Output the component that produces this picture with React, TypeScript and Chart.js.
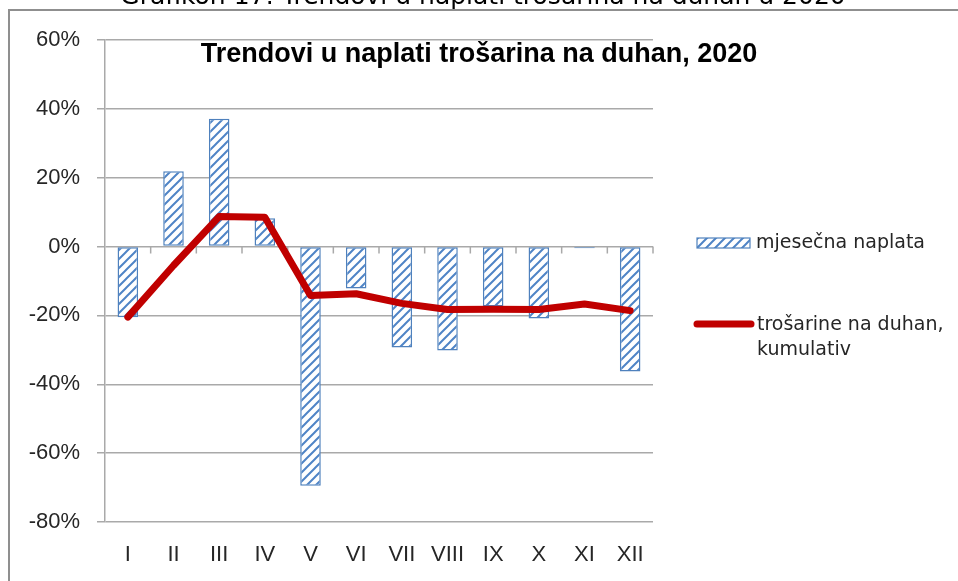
import React, { useEffect, useRef } from "react";
import { Chart, registerables } from "chart.js";

Chart.register(...registerables);

const months = ["I", "II", "III", "IV", "V", "VI", "VII", "VIII", "IX", "X", "XI", "XII"];
const monthlyCollection = [-20.5, 21.9, 37.1, 8.2, -69.5, -12.2, -29.3, -30.2, -17.4, -20.9, -0.5, -36.3];
const cumulativeExcise = [-20.5, -5.5, 8.7, 8.5, -14.2, -13.7, -16.5, -18.3, -18.2, -18.3, -16.7, -18.6];
const yTicks = { min: -80, max: 60, step: 20 };

const captionText = "Grafikon 17: Trendovi u naplati trošarina na duhan u 2020";
const titleText = "Trendovi u naplati trošarina na duhan, 2020";
const legendBar = "mjesečna naplata";
const legendLine = ["trošarine na duhan,", "kumulativ"];

const BLUE = "#4F81BD";
const RED = "#C00000";
const GRID = "#a9a9a9";
const TEXT = "#262626";
const AXIS_FONT = "'Liberation Sans Narrow', 'Liberation Sans', sans-serif";
const LEGEND_FONT = "'DejaVu Sans', Verdana, sans-serif";

function makePattern(): CanvasPattern | string {
  const s = 9;
  const c = document.createElement("canvas");
  c.width = s;
  c.height = s;
  const g = c.getContext("2d");
  if (!g) return BLUE;
  g.fillStyle = "#ffffff";
  g.fillRect(0, 0, s, s);
  g.strokeStyle = "#4f84c6";
  g.lineWidth = 2;
  g.beginPath();
  for (const off of [-s, 0, s]) {
    g.moveTo(off - 2, s + 2);
    g.lineTo(off + s + 2, -2);
  }
  g.stroke();
  const p = g.createPattern(c, "repeat");
  return p || BLUE;
}

export default function App() {
  const ref = useRef<HTMLCanvasElement | null>(null);

  useEffect(() => {
    if (!ref.current) return;
    const pattern = makePattern();

    const decorPlugin = {
      id: "decor",
      beforeDatasetsDraw(chart: any) {
        const ctx = chart.ctx;
        const y = chart.scales.y;
        const y0 = y.getPixelForValue(0);
        const left = chart.chartArea.left;
        const right = chart.chartArea.right;
        const step = (right - left) / months.length;
        ctx.save();
        ctx.strokeStyle = GRID;
        ctx.lineWidth = 1.5;
        ctx.beginPath();
        for (let k = 1; k <= months.length; k++) {
          const px = left + step * k;
          ctx.moveTo(px, y0);
          ctx.lineTo(px, y0 + 7);
        }
        ctx.stroke();
        ctx.restore();
      },
      afterDraw(chart: any) {
        const ctx = chart.ctx;
        ctx.save();
        // caption (cut off at top)
        ctx.fillStyle = "#000000";
        ctx.font = `25px ${LEGEND_FONT}`;
        ctx.textAlign = "center";
        ctx.textBaseline = "alphabetic";
        ctx.fillText(captionText, 483, 4);
        // frame
        ctx.strokeStyle = "#8f8f8f";
        ctx.lineWidth = 2;
        ctx.beginPath();
        ctx.moveTo(9, 581);
        ctx.lineTo(9, 10);
        ctx.lineTo(958, 10);
        ctx.stroke();
        // title
        ctx.fillStyle = "#000000";
        ctx.font = `bold 27px ${AXIS_FONT}`;
        ctx.textAlign = "center";
        ctx.fillText(titleText, 479, 62);
        // legend
        ctx.fillStyle = pattern as any;
        ctx.fillRect(697, 238, 53, 10);
        ctx.strokeStyle = BLUE;
        ctx.lineWidth = 1.2;
        ctx.strokeRect(697, 238, 53, 10);
        ctx.fillStyle = TEXT;
        ctx.font = `19px ${LEGEND_FONT}`;
        ctx.textAlign = "left";
        ctx.textBaseline = "middle";
        ctx.fillText(legendBar, 756, 243);
        ctx.strokeStyle = RED;
        ctx.lineWidth = 7;
        ctx.lineCap = "round";
        ctx.beginPath();
        ctx.moveTo(697, 324);
        ctx.lineTo(751, 324);
        ctx.stroke();
        ctx.fillText(legendLine[0], 757, 325);
        ctx.fillText(legendLine[1], 757, 350);
        ctx.restore();
      },
    };

    const chart = new Chart(ref.current, {
      type: "bar",
      data: {
        labels: months,
        datasets: [
          {
            type: "line",
            label: legendLine.join(" "),
            data: cumulativeExcise,
            borderColor: RED,
            backgroundColor: RED,
            borderWidth: 7,
            pointRadius: 0,
            tension: 0,
            borderJoinStyle: "round",
            borderCapStyle: "round",
            order: 0,
          } as any,
          {
            type: "bar",
            label: legendBar,
            data: monthlyCollection,
            backgroundColor: pattern as any,
            borderColor: BLUE,
            borderWidth: 1.5,
            borderSkipped: false,
            barPercentage: 0.45,
            categoryPercentage: 1,
            order: 1,
          } as any,
        ],
      },
      options: {
        responsive: false,
        animation: false,
        devicePixelRatio: 1,
        layout: { padding: { left: 0, right: 305, top: 40, bottom: 0 } },
        plugins: {
          legend: { display: false },
          title: { display: false },
          tooltip: { enabled: false },
        },
        scales: {
          x: {
            grid: { display: false, drawTicks: false },
            border: { display: false },
            ticks: {
              color: TEXT,
              font: { family: AXIS_FONT, size: 22 },
              padding: 20,
              maxRotation: 0,
              autoSkip: false,
            },
            afterFit(scale: any) {
              scale.height = 59;
            },
          },
          y: {
            min: yTicks.min,
            max: yTicks.max,
            ticks: {
              stepSize: yTicks.step,
              color: TEXT,
              font: { family: AXIS_FONT, size: 22 },
              padding: 17,
              callback: (v: any) => `${v}%`,
            },
            grid: { color: GRID, lineWidth: 1.5, tickLength: 8, drawTicks: true },
            border: { display: true, color: GRID, width: 1.5 },
            afterFit(scale: any) {
              scale.width = 105;
            },
          },
        },
      },
      plugins: [decorPlugin],
    });

    return () => chart.destroy();
  }, []);

  return (
    <div style={{ position: "absolute", left: 0, top: 0, width: 958, height: 581, background: "#fff" }}>
      <canvas ref={ref} width={958} height={581} style={{ display: "block", width: 958, height: 581 }} />
    </div>
  );
}
